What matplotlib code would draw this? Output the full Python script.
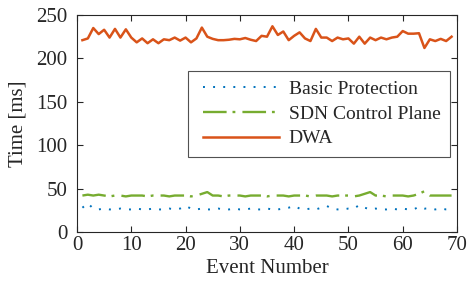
import matplotlib
matplotlib.use("Agg")
import matplotlib.pyplot as plt
from matplotlib.legend_handler import HandlerLine2D

events = list(range(1, 70))
dwa = [221, 223, 235, 228, 233, 224, 234, 224, 233.5, 224,
       218.5, 223, 217.5, 222, 217.5, 222, 221, 224, 220.5, 224,
       218.5, 223, 235.5, 225, 222.5, 221, 221, 221.5, 222.5, 222,
       223.5, 221.5, 220, 226, 225, 237, 227, 231, 221, 226,
       230, 223, 220, 234, 224, 224, 220, 224, 222, 223,
       217, 225, 217, 224, 221, 224, 222, 224, 225, 231.5,
       228.5, 228.5, 229, 212, 222, 220, 222.5, 220, 225]
sdn = [42, 43, 42, 43, 42, 41, 42, 42, 41, 42,
       42, 42, 41, 42, 42, 42, 41, 42, 42, 42,
       41, 42, 44, 46, 42, 42, 41, 42, 42, 42,
       41, 42, 42, 42, 41, 42, 42, 42, 41, 42,
       42, 42, 41, 42, 42, 42, 41, 42, 42, 42,
       41, 42, 44, 46, 42, 42, 41, 42, 42, 42,
       41, 42, 44, 47, 42, 42, 42, 42, 42]
basic = [28, 33, 27, 26, 27, 26, 26, 27, 26, 26,
         27, 26, 26, 27, 26, 26, 27, 26, 27, 30,
         27, 26, 27, 26, 26, 27, 26, 26, 27, 26,
         26, 27, 26, 26, 27, 26, 26, 27, 28, 30,
         27, 26, 27, 26, 28, 30, 27, 26, 26, 27,
         27, 31, 28, 26, 27, 26, 26, 27, 26, 27,
         26, 26, 29, 27, 27, 26, 27, 26, 26]

xticks = [0, 10, 20, 30, 40, 50, 60, 70]
yticks = [0, 50, 100, 150, 200, 250]

plt.rcParams['font.family'] = ['Liberation Serif', 'DejaVu Serif']
plt.rcParams['font.size'] = 15

fig = plt.figure(figsize=(4.68, 2.81), dpi=100)
ax = fig.add_axes([0.1645, 0.1744, 0.812, 0.7722])

ax.plot(events, basic, color='#0072BD', lw=1.4, linestyle=(0, (1, 4.2)), label='Basic Protection')
ax.plot(events, sdn, color='#77AC30', lw=1.7, linestyle=(0, (10, 2.5, 1.2, 3.0)), label='SDN Control Plane')
ax.plot(events, dwa, color='#D95319', lw=1.8, label='DWA')

ax.set_xlim(0, 70)
ax.set_ylim(0, 250)
ax.set_xticks(xticks)
ax.set_yticks(yticks)
ax.tick_params(direction='in', top=True, right=True, length=4, width=0.8, colors='#262626', labelcolor='#262626')
ax.tick_params(axis='x', pad=3)
ax.tick_params(axis='y', pad=7)
for s in ax.spines.values():
    s.set_color('#262626')
    s.set_linewidth(0.8)
ax.set_xlabel('Event Number', color='#262626', labelpad=3)
ax.set_ylabel('Time [ms]', color='#262626', labelpad=6)


class PadHandler(HandlerLine2D):
    def create_artists(self, legend, orig_handle, xdescent, ydescent, width, height, fontsize, trans):
        pad = 4
        return super().create_artists(legend, orig_handle, xdescent - pad, ydescent, width - pad,
                                      height, fontsize, trans)


handles, labels = ax.get_legend_handles_labels()
leg = ax.legend(handles, labels, loc='upper left', bbox_to_anchor=(0.2915, 0.743), frameon=True,
                fancybox=False, edgecolor='#262626', handlelength=4.2, handletextpad=0.5,
                labelspacing=0.36, borderpad=0.5, borderaxespad=0, fontsize=14,
                handler_map={h: PadHandler() for h in handles})
leg.get_frame().set_linewidth(0.8)
for t in leg.get_texts():
    t.set_color('#262626')

fig.savefig('out.png', dpi=100)
